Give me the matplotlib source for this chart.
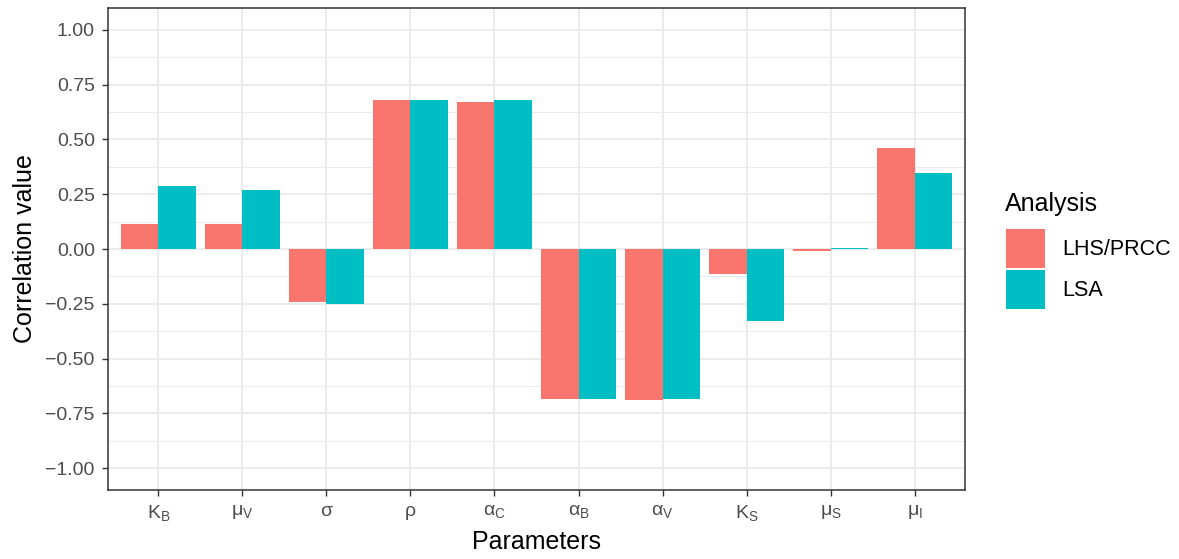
import matplotlib
matplotlib.use('Agg')
import matplotlib.pyplot as plt
import numpy as np
from matplotlib.patches import Patch
from matplotlib.ticker import MultipleLocator

plt.rcParams['font.family'] = ['Liberation Sans', 'DejaVu Sans']
plt.rcParams['mathtext.fontset'] = 'custom'
plt.rcParams['mathtext.rm'] = 'Liberation Sans'
plt.rcParams['mathtext.it'] = 'Liberation Sans'
plt.rcParams['mathtext.bf'] = 'Liberation Sans'

# data
params = [r'$\mathregular{K_B}$', r'$\mathregular{μ_V}$', 'σ', 'ρ',
          r'$\mathregular{α_C}$', r'$\mathregular{α_B}$', r'$\mathregular{α_V}$',
          r'$\mathregular{K_S}$', r'$\mathregular{μ_S}$', r'$\mathregular{μ_I}$']
lhs_prcc = [0.115, 0.115, -0.243, 0.682, 0.673, -0.686, -0.691, -0.113, -0.007, 0.462]
lsa = [0.288, 0.270, -0.250, 0.682, 0.682, -0.686, -0.686, -0.328, 0.003, 0.348]
series_names = ['LHS/PRCC', 'LSA']
colors = ['#F8766D', '#00BFC4']
yticks = np.arange(-1, 1.01, 0.25)

fig = plt.figure(figsize=(11.79, 5.59), dpi=100)
ax = fig.add_axes([108 / 1179, 1 - 490 / 559, (965 - 108) / 1179, (490 - 8) / 559])

x = np.arange(1, len(params) + 1)
w = 0.45
ax.bar(x - w / 2, lhs_prcc, width=w, color=colors[0], zorder=3)
ax.bar(x + w / 2, lsa, width=w, color=colors[1], zorder=3)

ax.set_xlim(0.4, len(params) + 0.6)
ax.set_ylim(-1.1, 1.1)
ax.set_xticks(x)
ax.set_xticklabels(params)
ax.yaxis.set_minor_locator(MultipleLocator(0.125))
ax.set_yticks(yticks)
ax.set_yticklabels([f'{v:.2f}'.replace('-', '\u2212') for v in yticks])

ax.grid(True, which='major', color='#EBEBEB', linewidth=1.4, zorder=0)
ax.grid(True, which='minor', axis='y', color='#EBEBEB', linewidth=0.7, zorder=0)
ax.set_axisbelow(True)
ax.tick_params(which='minor', length=0)
ax.tick_params(which='major', length=4.5, width=1.0, color='#333333',
               labelsize=14, labelcolor='#4D4D4D', pad=5)
for s in ax.spines.values():
    s.set_color('#333333')
    s.set_linewidth(1.1)

ax.set_xlabel('Parameters', fontsize=18, labelpad=5)
ax.set_ylabel('Correlation value', fontsize=18, labelpad=6)

# legend: title drawn separately so the gap to the keys matches ggplot
fig.text(1005 / 1179, 1 - 211 / 559, 'Analysis', fontsize=18, va='baseline', ha='left')
handles = [Patch(facecolor=c, edgecolor='none') for c in colors]
leg = fig.legend(handles, series_names, loc='upper left',
                 bbox_to_anchor=(1006 / 1179, 1 - 229 / 559), frameon=False,
                 fontsize=15.5, handlelength=1.8, handleheight=2.4,
                 handletextpad=0.8, labelspacing=0.1, borderaxespad=0, borderpad=0)

fig.savefig('out.png', dpi=100)
